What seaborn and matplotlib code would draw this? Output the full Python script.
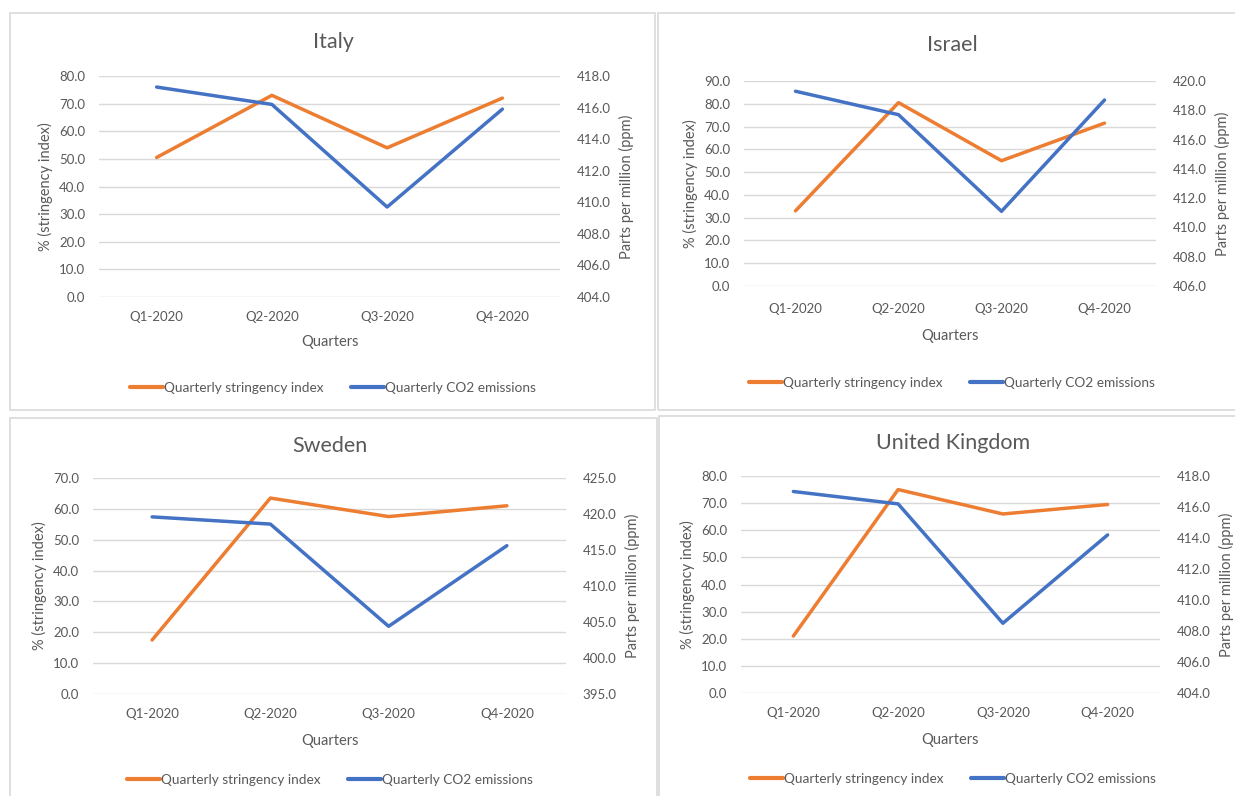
import matplotlib.pyplot as plt
import matplotlib.patches as mpatches
import matplotlib.ticker as mticker
import numpy as np
import pandas as pd
import seaborn as sns
from matplotlib.lines import Line2D

# %% Data
quarters = ["Q1-2020", "Q2-2020", "Q3-2020", "Q4-2020"]

italy_stringency = [50.5, 73.0, 54.0, 72.0]
italy_co2 = [417.3, 416.2, 409.7, 415.9]

israel_stringency = [33.0, 80.5, 55.0, 71.5]
israel_co2 = [419.3, 417.7, 411.1, 418.7]

sweden_stringency = [17.5, 63.5, 57.5, 61.0]
sweden_co2 = [419.6, 418.6, 404.4, 415.6]

uk_stringency = [21.0, 75.0, 66.0, 69.5]
uk_co2 = [417.0, 416.2, 408.5, 414.2]

# %% Style
sns.set_theme(style="white")
plt.rcParams["font.family"] = ["Lato", "DejaVu Sans"]

ORANGE = "#ED7D31"
BLUE = "#4472C4"
TEXT = "#595959"
GRID = "#D9D9D9"

W, H = 1235, 796
fig = plt.figure(figsize=(W / 100, H / 100), dpi=100)
fig.patch.set_facecolor("white")


def px_rect(x0, y0, x1, y1):
    # pixel box (top-left origin) -> figure fraction rect
    return [x0 / W, 1 - y1 / H, (x1 - x0) / W, (y1 - y0) / H]


# panel: title, data, axes box, left axis, right axis, title/legend y, centre x, border
panels = [
    dict(title="Italy", s=italy_stringency, c=italy_co2,
         box=(99, 76, 560, 297), left=(0, 80, 10), right=(404, 418, 2),
         cx=333, ty=42, ly=388, xpad=10, lpad=9, border=(10, 13, 655, 410)),
    dict(title="Israel", s=israel_stringency, c=israel_co2,
         box=(744, 81, 1156, 286), left=(0, 90, 10), right=(406, 420, 2),
         cx=952, ty=45, ly=383, xpad=12, lpad=10, border=(658, 13, 1240, 410)),
    dict(title="Sweden", s=sweden_stringency, c=sweden_co2,
         box=(93, 478, 566, 694), left=(0, 70, 10), right=(395, 425, 5),
         cx=330, ty=446, ly=780, xpad=10, lpad=10, border=(10, 418, 657, 800)),
    dict(title="United Kingdom", s=uk_stringency, c=uk_co2,
         box=(741, 476, 1160, 693), left=(0, 80, 10), right=(404, 418, 2),
         cx=953, ty=443, ly=779, xpad=10, lpad=10, border=(659, 416, 1240, 800)),
]

for p in panels:
    bx0, by0, bx1, by1 = p["border"]
    fig.patches.append(
        mpatches.Rectangle((bx0 / W, 1 - by1 / H), (bx1 - bx0) / W, (by1 - by0) / H,
                           transform=fig.transFigure, fill=False,
                           edgecolor=GRID, linewidth=1.2)
    )

    ax = fig.add_axes(px_rect(*p["box"]))
    ax2 = ax.twinx()
    df = pd.DataFrame({"Quarter": quarters, "Stringency": p["s"], "CO2": p["c"]})

    sns.lineplot(data=df, x="Quarter", y="Stringency", color=ORANGE,
                 linewidth=2.5, sort=False, ax=ax)
    sns.lineplot(data=df, x="Quarter", y="CO2", color=BLUE,
                 linewidth=2.5, sort=False, ax=ax2)

    lo, hi, step = p["left"]
    ax.set_ylim(lo, hi)
    ax.set_yticks(np.arange(lo, hi + step / 2, step))
    rlo, rhi, rstep = p["right"]
    ax2.set_ylim(rlo, rhi)
    ax2.set_yticks(np.arange(rlo, rhi + rstep / 2, rstep))
    ax.set_xlim(-0.5, 3.5)

    for a in (ax, ax2):
        a.yaxis.set_major_formatter(mticker.FormatStrFormatter("%.1f"))
        a.tick_params(length=0, labelsize=9.5, labelcolor=TEXT)
        for sp in a.spines.values():
            sp.set_visible(False)
    ax.tick_params(axis="y", pad=10)
    ax2.tick_params(axis="y", pad=12)
    ax.tick_params(axis="x", pad=p["xpad"])

    ax.grid(axis="y", color=GRID, linewidth=1.0)
    ax.set_axisbelow(True)

    ax.set_xlabel("Quarters", fontsize=10.5, color=TEXT, labelpad=p["lpad"])
    ax.set_ylabel("% (stringency index)", fontsize=10.5, color=TEXT, labelpad=4)
    ax2.set_ylabel("Parts per million (ppm)", fontsize=10.5, color=TEXT, labelpad=6)

    fig.text(p["cx"] / W, 1 - p["ty"] / H, p["title"], ha="center", va="center",
             fontsize=15.5, color=TEXT)

    handles = [Line2D([], [], color=ORANGE, linewidth=3),
               Line2D([], [], color=BLUE, linewidth=3)]
    fig.legend(handles, ["Quarterly stringency index", "Quarterly CO2 emissions"],
               loc="center", bbox_to_anchor=(p["cx"] / W, 1 - p["ly"] / H),
               ncol=2, frameon=False, fontsize=9.8, labelcolor=TEXT,
               handlelength=2.4, handletextpad=0.1, columnspacing=2.0)

fig.savefig("out.png", dpi=100, facecolor="white")
